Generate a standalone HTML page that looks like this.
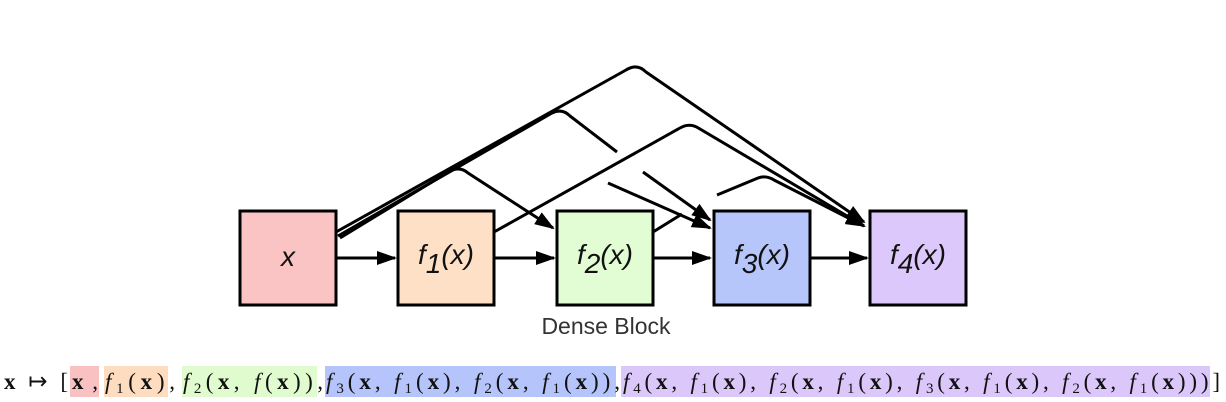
<!DOCTYPE html>
<html><head><meta charset="utf-8"><style>
html,body{margin:0;padding:0;background:#fff;width:1226px;height:402px;overflow:hidden}
</style></head><body>
<svg width="1226" height="402" viewBox="0 0 1226 402" xmlns="http://www.w3.org/2000/svg">
<defs>
<marker id="b" markerWidth="20" markerHeight="14" refX="18" refY="7" orient="auto" markerUnits="userSpaceOnUse">
<path d="M0,0 L20,7 L0,14 z" fill="#000"/></marker>
</defs>
<g fill="none" stroke="#000" stroke-width="3" stroke-linejoin="round">
<path d="M336,232 L626,70 Q637,63 646,72 L864,222" marker-end="url(#b)"/>
<path d="M338,236 L552,113 Q562,108 570,116 L617,152"/>
<path d="M643,172 L710,220" marker-end="url(#b)"/>
<path d="M340,238 L450,171 Q460,166 468,173 L553,228" marker-end="url(#b)"/>
<path d="M494,232 L680,128 Q690,122 700,129 L864,226" marker-end="url(#b)"/>
<path d="M608,183 L710,228" marker-end="url(#b)"/>
<path d="M653,232 L682,214"/>
<path d="M717,195 L758,178 Q766,175 774,180 L864,226" marker-end="url(#b)"/>
<path d="M336,258 L395,258" marker-end="url(#b)"/>
<path d="M494,258 L554,258" marker-end="url(#b)"/>
<path d="M653,258 L710,258" marker-end="url(#b)"/>
<path d="M810,258 L867,258" marker-end="url(#b)"/>
</g>
<g stroke="#000" stroke-width="3">
<rect x="240" y="211" width="96" height="94" fill="#fbc4c4"/>
<rect x="398" y="211" width="96" height="94" fill="#fde0c6"/>
<rect x="557" y="211" width="96" height="94" fill="#e2fcd3"/>
<rect x="714" y="211" width="96" height="94" fill="#b6c6fb"/>
<rect x="870" y="211" width="96" height="94" fill="#ddc8fb"/>
</g>
<g font-family="Liberation Sans, sans-serif" font-style="italic" font-size="28" fill="#111">
<text x="288" y="266" text-anchor="middle">x</text>
<text x="446" y="264" text-anchor="middle">f<tspan dy="9">1</tspan><tspan dy="-9">(x)</tspan></text>
<text x="605" y="264" text-anchor="middle">f<tspan dy="9">2</tspan><tspan dy="-9">(x)</tspan></text>
<text x="762" y="264" text-anchor="middle">f<tspan dy="9">3</tspan><tspan dy="-9">(x)</tspan></text>
<text x="918" y="264" text-anchor="middle">f<tspan dy="9">4</tspan><tspan dy="-9">(x)</tspan></text>
</g>
<text x="606" y="334" text-anchor="middle" font-family="Liberation Sans, sans-serif" font-size="23" fill="#333">Dense Block</text>
<rect x="70" y="366" width="29" height="31" fill="#f9c1c1"/>
<rect x="104" y="366" width="64" height="31" fill="#fddcc0"/>
<rect x="182" y="366" width="135" height="31" fill="#e0fccf"/>
<rect x="325" y="366" width="291" height="31" fill="#b5c4fb"/>
<rect x="621" y="366" width="589" height="31" fill="#dcc7fb"/>
<g font-family="Liberation Serif, serif" font-size="23" fill="#111" font-weight="normal">
<text x="4" y="389" textLength="64" lengthAdjust="spacing"><tspan font-weight="bold">x</tspan> ↦ [</text>
<text x="72" y="389" textLength="26" lengthAdjust="spacing"><tspan font-weight="bold">x</tspan>,</text>
<text x="105" y="389" textLength="70" lengthAdjust="spacing"><tspan font-style="italic">f</tspan><tspan font-size="15" dy="4">1</tspan><tspan dy="-4">(</tspan><tspan font-weight="bold">x</tspan><tspan>),</tspan></text>
<text x="183" y="389" textLength="140" lengthAdjust="spacing"><tspan font-style="italic">f</tspan><tspan font-size="15" dy="4">2</tspan><tspan dy="-4">(</tspan><tspan font-weight="bold">x</tspan><tspan>, </tspan><tspan font-style="italic">f</tspan><tspan>(</tspan><tspan font-weight="bold">x</tspan><tspan>)),</tspan></text>
<text x="326" y="389" textLength="294" lengthAdjust="spacing"><tspan font-style="italic">f</tspan><tspan font-size="15" dy="4">3</tspan><tspan dy="-4">(</tspan><tspan font-weight="bold">x</tspan><tspan>, </tspan><tspan font-style="italic">f</tspan><tspan font-size="15" dy="4">1</tspan><tspan dy="-4">(</tspan><tspan font-weight="bold">x</tspan><tspan>), </tspan><tspan font-style="italic">f</tspan><tspan font-size="15" dy="4">2</tspan><tspan dy="-4">(</tspan><tspan font-weight="bold">x</tspan><tspan>, </tspan><tspan font-style="italic">f</tspan><tspan font-size="15" dy="4">1</tspan><tspan dy="-4">(</tspan><tspan font-weight="bold">x</tspan><tspan>)),</tspan></text>
<text x="623" y="389" textLength="597" lengthAdjust="spacing"><tspan font-style="italic">f</tspan><tspan font-size="15" dy="4">4</tspan><tspan dy="-4">(</tspan><tspan font-weight="bold">x</tspan><tspan>, </tspan><tspan font-style="italic">f</tspan><tspan font-size="15" dy="4">1</tspan><tspan dy="-4">(</tspan><tspan font-weight="bold">x</tspan><tspan>), </tspan><tspan font-style="italic">f</tspan><tspan font-size="15" dy="4">2</tspan><tspan dy="-4">(</tspan><tspan font-weight="bold">x</tspan><tspan>, </tspan><tspan font-style="italic">f</tspan><tspan font-size="15" dy="4">1</tspan><tspan dy="-4">(</tspan><tspan font-weight="bold">x</tspan><tspan>), </tspan><tspan font-style="italic">f</tspan><tspan font-size="15" dy="4">3</tspan><tspan dy="-4">(</tspan><tspan font-weight="bold">x</tspan><tspan>, </tspan><tspan font-style="italic">f</tspan><tspan font-size="15" dy="4">1</tspan><tspan dy="-4">(</tspan><tspan font-weight="bold">x</tspan><tspan>), </tspan><tspan font-style="italic">f</tspan><tspan font-size="15" dy="4">2</tspan><tspan dy="-4">(</tspan><tspan font-weight="bold">x</tspan><tspan>, </tspan><tspan font-style="italic">f</tspan><tspan font-size="15" dy="4">1</tspan><tspan dy="-4">(</tspan><tspan font-weight="bold">x</tspan><tspan>)))]</tspan></text>
</g>
</svg>
</body></html>
